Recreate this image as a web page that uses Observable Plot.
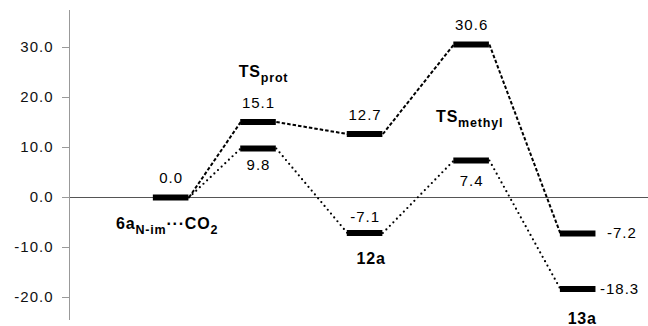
<!DOCTYPE html>
<html><head><meta charset="utf-8">
<script src="https://cdn.jsdelivr.net/npm/d3@7"></script>
<script src="https://cdn.jsdelivr.net/npm/@observablehq/plot@0.6"></script>
<style>body{margin:0;background:#fff}</style>
</head><body><div id="chart"></div>
<script>
// ---- data ----
const stages = ["6a_{N-im}···CO_{2}", "TS_{prot}", "12a", "TS_{methyl}", "13a"];
const stageX = [1.18, 2, 3, 4, 5];          // reaction coordinate
const upperE = [0.0, 15.1, 12.7, 30.6, -7.2]; // dashed pathway
const lowerE = [0.0, 9.8, -7.1, 7.4, -18.3];  // dotted pathway
const yTicks = [-20, -10, 0, 10, 20, 30];

// ---- layout / annotation config ----
const hw = 0.167;
const xDomain = [0.226, 5.66];
const yDomain = [-25, 37.4];
const nameY = [-5.3, 25.2, -12.2, 16.2, -24.2];
const nameDX = [-4, 5, 6, -2, 4];

const levels = [];
const links = [];
const vlabels = [];
function addPath(vals, kind) {
  vals.forEach((v, i) => {
    if (!(kind === "lower" && i === 0)) levels.push({x: stageX[i], v});
    if (i > 0) links.push({x1: stageX[i-1] + hw, y1: vals[i-1], x2: stageX[i] - hw, y2: v, kind});
  });
}
addPath(upperE, "upper");
addPath(lowerE, "lower");

const upperSide = ["above", "above", "above", "above", "right"];
const lowerSide = [null, "below", "above", "below", "right"];
upperE.forEach((v, i) => vlabels.push({x: stageX[i], v, side: upperSide[i], dy: -19, dx: 11}));
lowerE.forEach((v, i) => { if (lowerSide[i]) vlabels.push({x: stageX[i], v, side: lowerSide[i], dy: lowerSide[i]==="above" ? -16 : 18, dx: 4}); });
vlabels.forEach(d => { if (d.side === "below") d.dy = d.v > 8 ? 17 : 21; });

const fmt = v => v.toFixed(1);
const txtAbove = vlabels.filter(d => d.side !== "right");
const txtRight = vlabels.filter(d => d.side === "right");
const names = stages.map((s, i) => ({x: stageX[i], y: nameY[i], s, dx: nameDX[i]}));

const plot = Plot.plot({
  width: 648, height: 326,
  marginLeft: 69, marginRight: 0, marginTop: 10, marginBottom: 4,
  style: {fontFamily: "'Liberation Sans', Arial, sans-serif", fontSize: "15px", color: "#000", background: "#fff"},
  x: {domain: xDomain, axis: null},
  y: {domain: yDomain},
  marks: [
    Plot.ruleY([0], {stroke: "#555", strokeWidth: 1}),
    Plot.ruleX([xDomain[0]], {y1: 37.4, y2: -24.6, stroke: "#999", strokeWidth: 1}),
    Plot.axisY({ticks: yTicks, tickFormat: fmt, tickSize: 7, tickPadding: 9, stroke: "#999", fill: "#111", fontSize: 15, label: null}),
    Plot.link(links.filter(d => d.kind === "upper"), {x1: "x1", y1: "y1", x2: "x2", y2: "y2", stroke: "#000", strokeWidth: 2, strokeDasharray: "3.5,2"}),
    Plot.link(links.filter(d => d.kind === "lower"), {x1: "x1", y1: "y1", x2: "x2", y2: "y2", stroke: "#000", strokeWidth: 2.2, strokeDasharray: "0,5", strokeLinecap: "round"}),
    Plot.ruleY(levels, {y: "v", x1: d => d.x - hw, x2: d => d.x + hw, stroke: "#000", strokeWidth: 6}),
    ...txtAbove.map(d => Plot.text([d], {x: "x", y: "v", text: e => fmt(e.v), dy: d.dy, fontSize: 15, fill: "#000"})),
    ...txtRight.map(d => Plot.text([d], {x: e => e.x + hw, y: "v", text: e => fmt(e.v), dx: d.dx, textAnchor: "start", fontSize: 15, fill: "#000"})),
    ...names.map(d => Plot.text([d], {x: "x", y: "y", text: "s", dx: d.dx, fontSize: 16, fontWeight: "bold", fill: "#000"}))
  ]
});

// widen text slightly and render subscripts
d3.select(plot).selectAll("text").each(function() {
  const el = d3.select(this);
  const t = this.textContent;
  const bold = el.attr("font-weight") === "bold" || (this.parentNode && d3.select(this.parentNode).attr("font-weight") === "bold");
  el.style("letter-spacing", bold ? "0.8px" : "1px");
  if (!t.includes("_{")) return;
  el.text(null);
  const parts = t.split(/(_\{[^}]*\})/).filter(p => p.length);
  let shifted = false;
  parts.forEach(p => {
    if (p.startsWith("_{")) {
      el.append("tspan").attr("dy", shifted ? 0 : 5).attr("font-size", 12.5).text(p.slice(2, -1));
      shifted = true;
    } else {
      el.append("tspan").attr("dy", shifted ? -5 : 0).text(p);
      shifted = false;
    }
  });
});
document.getElementById("chart").appendChild(plot);
</script>
</body></html>
